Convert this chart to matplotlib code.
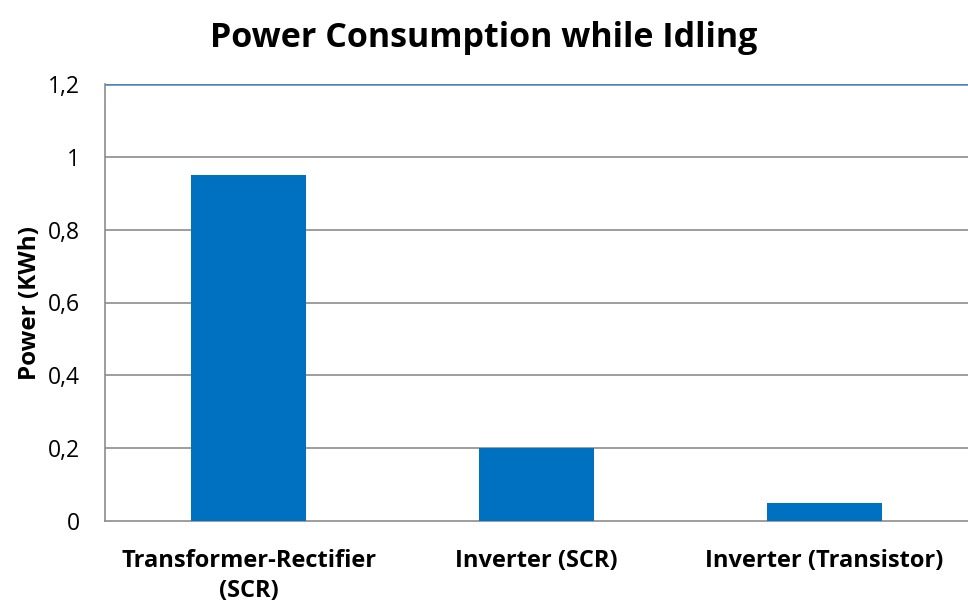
import matplotlib.pyplot as plt
from matplotlib.ticker import FuncFormatter

categories = ["Transformer-Rectifier\n(SCR)", "Inverter (SCR)", "Inverter (Transistor)"]
power = [0.95, 0.2, 0.05]
yticks = [0, 0.2, 0.4, 0.6, 0.8, 1.0, 1.2]

plt.rcParams['font.family'] = ['Open Sans', 'DejaVu Sans']

fig = plt.figure(figsize=(9.68, 6.08), dpi=100)
ax = fig.add_axes([105 / 968, 1 - 521 / 608, 863 / 968, 437 / 608])

x = range(len(categories))
ax.bar(x, power, width=0.40, color='#0070C0', zorder=3)
ax.set_xlim(-0.5, 2.5)
ax.set_ylim(0, 1.2)
ax.set_yticks(yticks)
ax.yaxis.set_major_formatter(FuncFormatter(lambda v, p: ('%g' % round(v, 1)).replace('.', ',')))
ax.set_xticks(list(x))
ax.set_xticklabels(categories, fontweight='bold', fontsize=17, linespacing=1.35)
ax.tick_params(axis='y', length=0, labelsize=16.5, pad=18)
ax.tick_params(axis='x', length=0, pad=20)

for v in yticks[1:-1]:
    ax.axhline(v, color='#8c8c8c', lw=1.2, zorder=1)
ax.axhline(1.2, color='#4f81bd', lw=1.8, zorder=1)

for s in ['top', 'right']:
    ax.spines[s].set_visible(False)
ax.spines['left'].set_color('#8c8c8c')
ax.spines['bottom'].set_color('#8c8c8c')
ax.spines['left'].set_linewidth(1.2)
ax.spines['bottom'].set_linewidth(1.2)

ax.set_ylabel('Power (KWh)', fontweight='bold', fontsize=17.5, labelpad=4)
fig.suptitle('Power Consumption while Idling', fontweight='bold', fontsize=24.5, y=0.965)

fig.savefig('out.png', dpi=100)
